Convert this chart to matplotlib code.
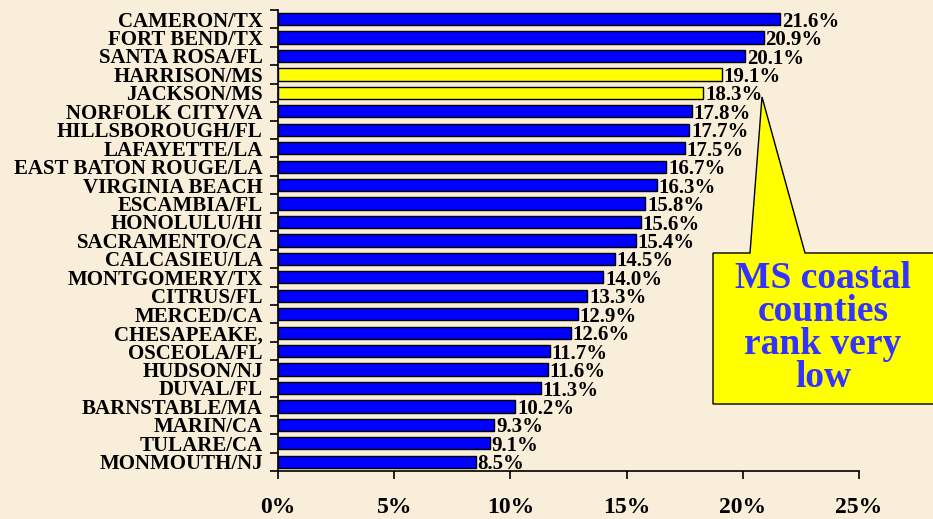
import numpy as np
import matplotlib
matplotlib.use("Agg")
from matplotlib import pyplot as plt
from matplotlib.patches import Polygon

counties = ["CAMERON/TX", "FORT BEND/TX", "SANTA ROSA/FL", "HARRISON/MS", "JACKSON/MS",
            "NORFOLK CITY/VA", "HILLSBOROUGH/FL", "LAFAYETTE/LA", "EAST BATON ROUGE/LA",
            "VIRGINIA BEACH", "ESCAMBIA/FL", "HONOLULU/HI", "SACRAMENTO/CA", "CALCASIEU/LA",
            "MONTGOMERY/TX", "CITRUS/FL", "MERCED/CA", "CHESAPEAKE,", "OSCEOLA/FL",
            "HUDSON/NJ", "DUVAL/FL", "BARNSTABLE/MA", "MARIN/CA", "TULARE/CA", "MONMOUTH/NJ"]
pct = [21.6, 20.9, 20.1, 19.1, 18.3, 17.8, 17.7, 17.5, 16.7, 16.3, 15.8, 15.6, 15.4, 14.5,
       14.0, 13.3, 12.9, 12.6, 11.7, 11.6, 11.3, 10.2, 9.3, 9.1, 8.5]
highlight = ["HARRISON/MS", "JACKSON/MS"]
xticks = [0, 5, 10, 15, 20, 25]
note = "MS coastal\ncounties\nrank very\nlow"

bg = "#F8EED9"
font = "Liberation Serif"

fig = plt.figure(figsize=(9.33, 5.19), dpi=100, facecolor=bg)
ax = fig.add_axes([0.298, 0.0925, 0.6227, 0.8885])
ax.set_facecolor(bg)

y = np.arange(len(counties))
colors = ["#FFFF00" if c in highlight else "#0000FF" for c in counties]
ax.barh(y, pct, height=0.66, color=colors, edgecolor="black", linewidth=1.0)

for yi, v in zip(y, pct):
    ax.text(v + 0.08, yi + 0.14, f"{v:.1f}%", va="center", ha="left",
            fontsize=15, fontweight="bold", family=font)

ax.set_ylim(len(counties) - 0.5, -0.5)
ax.set_xlim(0, 25)
ax.set_yticks(y)
ax.set_yticklabels(counties, fontsize=15, fontweight="bold", family=font)
ax.tick_params(axis="y", which="major", length=0, pad=11)
ax.set_yticks(np.arange(len(counties) + 1) - 0.5, minor=True)
ax.tick_params(axis="y", which="minor", length=6, width=1.2, direction="out")

ax.set_xticks(xticks)
ax.set_xticklabels([f"{t}%" for t in xticks], fontsize=17, fontweight="bold", family=font)
ax.tick_params(axis="x", length=6, width=1.2, direction="out", pad=13)

for s in ["top", "right"]:
    ax.spines[s].set_visible(False)
for s in ["left", "bottom"]:
    ax.spines[s].set_linewidth(1.2)

# callout box with pointer (pixel positions, y from top)
W, H = 933, 519
pts = [(713, 253), (750, 253), (762, 97), (805, 253), (940, 253), (940, 404), (713, 404)]
poly = Polygon([(px / W, 1 - py / H) for px, py in pts], closed=True,
               facecolor="#FFFF00", edgecolor="black", linewidth=1.0,
               transform=fig.transFigure, clip_on=False)
fig.patches.append(poly)
fig.text(823 / W, 1 - 328 / H, note, ha="center", va="center", color="#3333FF",
         fontsize=27, fontweight="bold", family=font, linespacing=0.92)

fig.savefig("out.png", dpi=100, facecolor=bg)
